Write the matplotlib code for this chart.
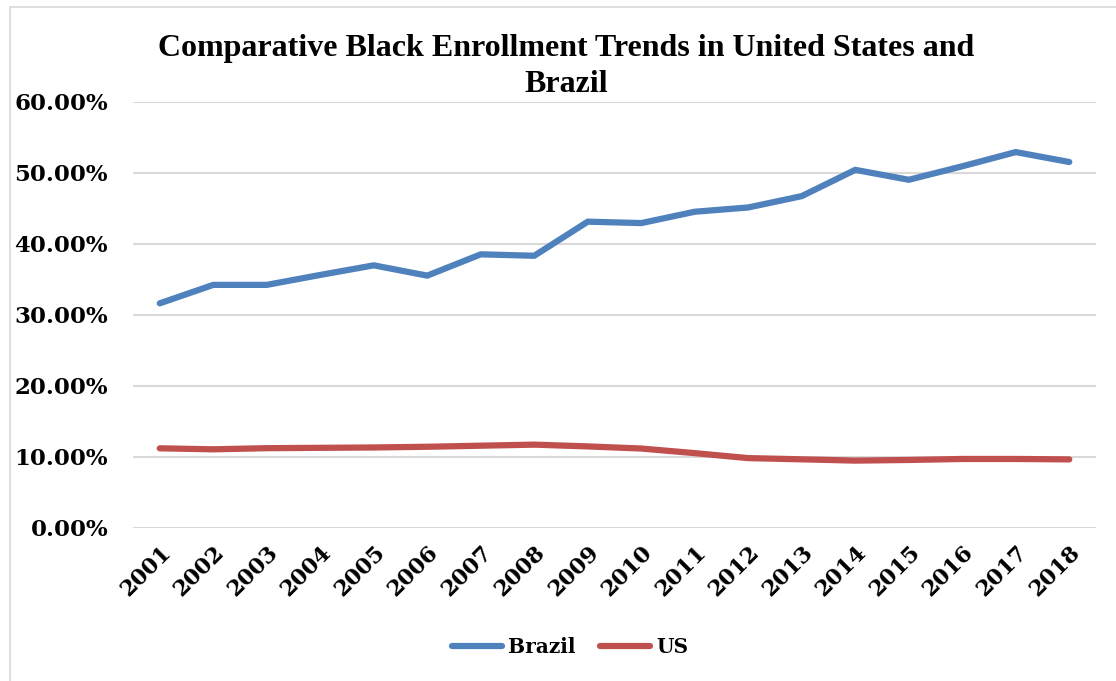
import matplotlib.pyplot as plt
from matplotlib.patches import Rectangle
from matplotlib.ticker import FuncFormatter

years = [str(y) for y in range(2001, 2019)]
brazil = [31.6, 34.2, 34.2, 35.6, 36.95, 35.5, 38.5, 38.3, 43.1, 42.9,
          44.5, 45.1, 46.7, 50.4, 49.0, 50.9, 52.9, 51.5]
us = [11.18, 11.04, 11.2, 11.25, 11.3, 11.4, 11.55, 11.7, 11.45, 11.15,
      10.5, 9.8, 9.63, 9.45, 9.54, 9.68, 9.68, 9.62]

blue = '#4F81BD'
red = '#C0504D'
grid_c = '#D9D9D9'

fig = plt.figure(figsize=(11.16, 6.81), dpi=100)
ax = fig.add_axes([0.1192, 0.2251, 0.8629, 0.6256])

# outer chart border (runs off the right and bottom edges)
fig.patches.append(Rectangle((10 / 1116, -0.05), 1.2, 1 - 7 / 681 + 0.05,
                             transform=fig.transFigure, fill=False,
                             edgecolor=grid_c, lw=1.2))

x = list(range(len(years)))
ax.plot(x, [v / 100 for v in brazil], color=blue, lw=4.5,
        solid_capstyle='round', solid_joinstyle='round', label='Brazil')
ax.plot(x, [v / 100 for v in us], color=red, lw=4.5,
        solid_capstyle='round', solid_joinstyle='round', label='US')

ax.set_xlim(-0.5, len(years) - 0.5)
ax.set_ylim(0, 0.6)
ax.set_yticks([0, 0.1, 0.2, 0.3, 0.4, 0.5, 0.6])
ax.yaxis.set_major_formatter(FuncFormatter(lambda v, p: '%.2f%%' % (v * 100)))
ax.set_xticks(x)
ax.set_xticklabels(years, rotation=45, ha='right', rotation_mode='anchor')

for s in ax.spines.values():
    s.set_visible(False)
ax.grid(axis='y', color=grid_c, lw=1.5)
ax.set_axisbelow(True)
ax.tick_params(length=0)
ax.tick_params(axis='y', pad=18)
ax.tick_params(axis='x', pad=10)
for lab in ax.get_yticklabels():
    lab.set_fontfamily('DejaVu Serif')
    lab.set_fontweight('bold')
    lab.set_fontsize(16.5)
for lab in ax.get_xticklabels():
    lab.set_fontfamily('DejaVu Serif')
    lab.set_fontweight('bold')
    lab.set_fontsize(16)

fig.text(0.507, 0.902, 'Comparative Black Enrollment Trends in United States and\nBrazil',
         ha='center', va='center', multialignment='center',
         family='Liberation Serif', weight='bold', fontsize=23, linespacing=1.3)

leg = fig.legend(loc='center', bbox_to_anchor=(0.511, 0.05), ncol=2, frameon=False,
                 handlelength=2.5, columnspacing=1.2, handletextpad=0.3,
                 prop={'family': 'DejaVu Serif', 'weight': 'bold', 'size': 14.5})

fig.savefig('out.png', dpi=100)
